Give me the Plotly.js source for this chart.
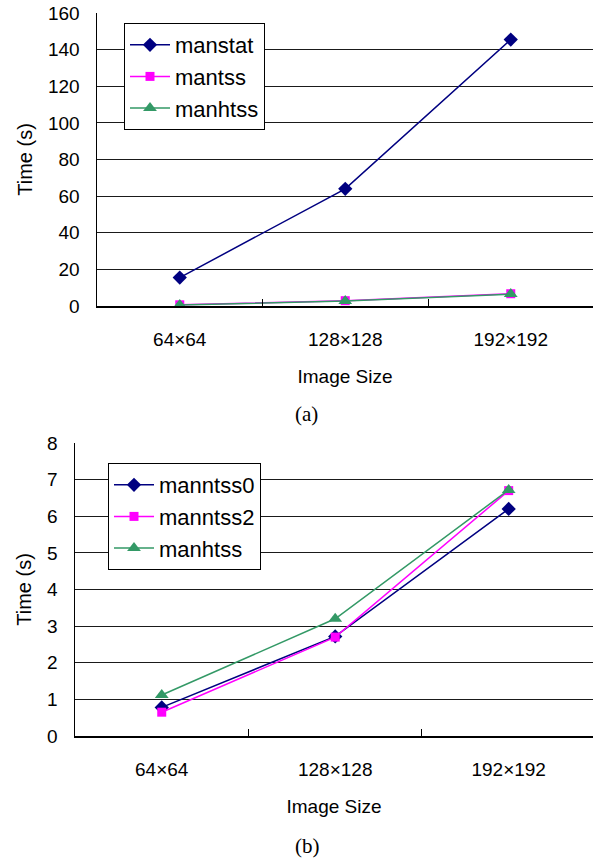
<!DOCTYPE html>
<html>
<head>
<meta charset="utf-8">
<script src="https://cdn.plot.ly/plotly-3.0.1.min.js"></script>
<style>html,body{margin:0;padding:0;background:#fff;}#chart{width:593px;height:861px;}</style>
</head>
<body>
<div id="chart"></div>
<script>
// ---- data ----
const categories = ["64×64", "128×128", "192×192"];
// chart (a)
const manstatA = [15.5, 64, 145.5];
const mantssA  = [0.65, 2.9, 6.7];
const manhtssA = [0.6, 2.7, 6.5];
// chart (b)
const manntss0B = [0.78, 2.72, 6.2];
const manntss2B = [0.65, 2.7, 6.7];
const manhtssB  = [1.12, 3.2, 6.72];
const seriesNamesA = ["manstat", "mantss", "manhtss"];
const seriesNamesB = ["manntss0", "manntss2", "manhtss"];
const yTitle = "Time (s)";
const xTitle = "Image Size";
const captions = ["(a)", "(b)"];

// ---- styles ----
const NAVY = "#000080", MAG = "#FF00FF", GREEN = "#339966";
const FONT = "Arial, 'Liberation Sans', sans-serif";
const W = 593, H = 861;
function trace(x, y, name, color, symbol, size, xa, ya, lg) {
  return {x: x, y: y, name: name, type: "scatter", mode: "lines+markers",
    line: {color: color, width: 1.5},
    marker: {color: color, symbol: symbol, size: size},
    xaxis: xa, yaxis: ya, legend: lg};
}
const data = [
  trace(categories, manstatA, seriesNamesA[0], NAVY, "diamond", 11, "x", "y", "legend"),
  trace(categories, mantssA, seriesNamesA[1], MAG, "square", 9, "x", "y", "legend"),
  trace(categories, manhtssA, seriesNamesA[2], GREEN, "triangle-up", 12, "x", "y", "legend"),
  trace(categories, manntss0B, seriesNamesB[0], NAVY, "diamond", 11, "x2", "y2", "legend2"),
  trace(categories, manntss2B, seriesNamesB[1], MAG, "square", 9, "x2", "y2", "legend2"),
  trace(categories, manhtssB, seriesNamesB[2], GREEN, "triangle-up", 12, "x2", "y2", "legend2")
];
function xaxis(domainLeft, range) {
  return {domain: [domainLeft / W, 1], range: range, type: "category",
    tickson: "boundaries", ticks: "inside", ticklen: 7, tickcolor: "#000", tickwidth: 1,
    showgrid: false, showline: true, linecolor: "#000", linewidth: 1.5,
    tickfont: {family: FONT, size: 19, color: "#000"}, ticklabelstandoff: 16,
    title: {text: xTitle, font: {family: FONT, size: 19, color: "#000"}, standoff: 20},
    fixedrange: true, zeroline: false};
}
function yaxis(top, bottom, range, dtick, anchor) {
  return {domain: [1 - bottom / H, 1 - top / H], range: range, dtick: dtick, anchor: anchor,
    showgrid: true, gridcolor: "#1a1a1a", gridwidth: 1,
    showline: true, linecolor: "#000", linewidth: 1.5, zeroline: false, ticks: "",
    tickfont: {family: FONT, size: 19, color: "#000"}, ticklabelstandoff: 12,
    title: {text: yTitle, font: {family: FONT, size: 20, color: "#000"}, standoff: 10},
    fixedrange: true};
}
const xa1 = xaxis(97, [-0.5, 2.497]); xa1.anchor = "y";
const xa2 = xaxis(75, [-0.5, 2.486]); xa2.anchor = "y2";
const legendStyle = {bgcolor: "#fff", bordercolor: "#000", borderwidth: 1,
  font: {family: FONT, size: 22, color: "#000"}, xanchor: "left", yanchor: "top",
  tracegroupgap: 0, itemwidth: 40, orientation: "v"};
const layout = {
  width: W, height: H, margin: {l: 0, r: 0, t: 0, b: 0},
  paper_bgcolor: "#fff", plot_bgcolor: "#fff", showlegend: true,
  xaxis: xa1, yaxis: yaxis(13, 306, [0, 160], 20, "x"),
  xaxis2: xa2, yaxis2: yaxis(443, 736, [0, 8], 1, "x2"),
  legend: Object.assign({x: 124 / W, y: 1 - 23 / H}, legendStyle),
  legend2: Object.assign({x: 108 / W, y: 1 - 463 / H}, legendStyle),
  annotations: [
    {text: captions[0], xref: "paper", yref: "paper", x: 306 / W, y: 1 - 414 / H,
     xanchor: "center", yanchor: "middle", showarrow: false,
     font: {family: "'Times New Roman', 'Liberation Serif', serif", size: 21, color: "#000"}},
    {text: captions[1], xref: "paper", yref: "paper", x: 307 / W, y: 1 - 846 / H,
     xanchor: "center", yanchor: "middle", showarrow: false,
     font: {family: "'Times New Roman', 'Liberation Serif', serif", size: 21, color: "#000"}}
  ]
};
Plotly.newPlot("chart", data, layout, {staticPlot: true, displayModeBar: false});
</script>
</body>
</html>
